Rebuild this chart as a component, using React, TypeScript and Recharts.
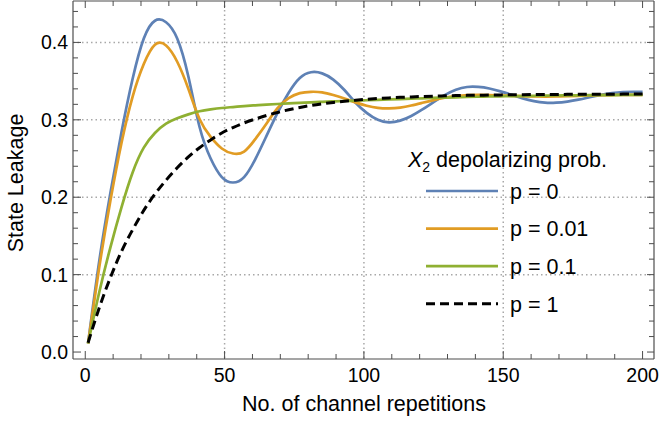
import React from 'react';
import { LineChart, Line, XAxis, YAxis, CartesianGrid, Customized } from 'recharts';

// ---- data ----
const reps = [1, 5, 9, 13, 17, 21, 25, 29, 33, 37, 41, 45, 49, 53, 57, 61, 65, 69, 73, 77, 81, 85, 89, 93, 97, 101, 105, 109, 113, 117, 121, 125, 129, 133, 137, 141, 145, 149, 153, 157, 161, 165, 169, 173, 177, 181, 185, 189, 193, 197, 200];

const leakP0 = [0.011, 0.117, 0.205, 0.284, 0.353, 0.405, 0.428, 0.426, 0.405, 0.356, 0.291, 0.250, 0.226, 0.219, 0.226, 0.249, 0.279, 0.309, 0.335, 0.354, 0.3615, 0.360, 0.352, 0.3385, 0.322, 0.309, 0.300, 0.2968, 0.299, 0.305, 0.3134, 0.3229, 0.3319, 0.3388, 0.3424, 0.3425, 0.3405, 0.3368, 0.3323, 0.3277, 0.3242, 0.3222, 0.3222, 0.3236, 0.3261, 0.3292, 0.3322, 0.3346, 0.3359, 0.3362, 0.336];

const leakP001 = [0.011, 0.109, 0.195, 0.270, 0.330, 0.372, 0.397, 0.396, 0.375, 0.340, 0.301, 0.278, 0.263, 0.2565, 0.259, 0.275, 0.295, 0.315, 0.328, 0.3345, 0.3362, 0.3355, 0.332, 0.3275, 0.3225, 0.3182, 0.3155, 0.3148, 0.3158, 0.3185, 0.322, 0.3255, 0.3285, 0.3305, 0.3318, 0.3322, 0.332, 0.3315, 0.331, 0.3305, 0.3302, 0.33, 0.3302, 0.3306, 0.331, 0.3315, 0.3318, 0.332, 0.3322, 0.3323, 0.3323];

const leakP01 = [0.011, 0.077, 0.135, 0.187, 0.232, 0.264, 0.283, 0.295, 0.302, 0.307, 0.311, 0.3135, 0.3153, 0.3165, 0.3177, 0.3187, 0.3196, 0.3204, 0.3212, 0.3219, 0.3226, 0.3232, 0.3238, 0.3243, 0.3248, 0.3253, 0.3258, 0.3263, 0.3268, 0.3273, 0.3278, 0.3283, 0.3287, 0.3291, 0.3295, 0.3298, 0.3301, 0.3304, 0.3306, 0.3308, 0.331, 0.3312, 0.3314, 0.3316, 0.3317, 0.3318, 0.3319, 0.332, 0.3321, 0.3322, 0.3322];

const leakP1 = [0.012, 0.057, 0.096, 0.130, 0.158, 0.183, 0.204, 0.222, 0.238, 0.252, 0.264, 0.274, 0.283, 0.290, 0.296, 0.301, 0.3055, 0.3095, 0.313, 0.316, 0.3186, 0.3207, 0.3225, 0.324, 0.3253, 0.3265, 0.3275, 0.3283, 0.329, 0.3296, 0.3302, 0.3306, 0.331, 0.3313, 0.3316, 0.3318, 0.332, 0.3322, 0.3324, 0.3325, 0.3326, 0.3327, 0.3328, 0.3329, 0.333, 0.333, 0.3331, 0.3331, 0.3332, 0.3332, 0.3332];

const seriesKeys = ['p0', 'p001', 'p01', 'p1'];
const legendLabels = ['p = 0', 'p = 0.01', 'p = 0.1', 'p = 1'];

const xTicks = [0, 10, 20, 30, 40, 50, 60, 70, 80, 90, 100, 110, 120, 130, 140, 150, 160, 170, 180, 190, 200];
const yTicks = [0, 0.02, 0.04, 0.06, 0.08, 0.1, 0.12, 0.14, 0.16, 0.18, 0.2, 0.22, 0.24, 0.26, 0.28, 0.3, 0.32, 0.34, 0.36, 0.38, 0.4, 0.42, 0.44];
const xGrid = [50, 100, 150];
const yGrid = [0.1, 0.2, 0.3, 0.4];

const xLabel = 'No. of channel repetitions';
const yLabel = 'State Leakage';
const legendTitleVar = 'X';
const legendTitleSub = '2';
const legendTitleRest = ' depolarizing prob.';

// ---- styles ----
const FONT = '"Liberation Sans", Arial, Helvetica, sans-serif';
const AXIS = '#4d4d4d';
const styles: Record<string, { color: string; dash?: string; width: number }> = {
  p0: { color: '#5E81B5', width: 2.7 },
  p001: { color: '#E19C24', width: 2.7 },
  p01: { color: '#8FB032', width: 2.7 },
  p1: { color: '#000000', dash: '9 5', width: 3 },
};

const data = reps.map((r, i) => ({
  r,
  p0: leakP0[i],
  p001: leakP001[i],
  p01: leakP01[i],
  p1: leakP1[i],
}));

const isMajorX = (v: number) => v % 50 === 0;
const isMajorY = (v: number) => Math.round(v * 100) % 10 === 0;

const BottomTick = (props: any) => {
  const { x, y, payload } = props;
  const major = isMajorX(payload.value);
  return (
    <g>
      <line x1={x} y1={y} x2={x} y2={y - (major ? 8 : 5)} stroke={AXIS} strokeWidth={1} />
      {major && (
        <text x={x} y={y + 23} textAnchor="middle" fontSize={19.5} fontFamily={FONT} fill="#000">
          {payload.value}
        </text>
      )}
    </g>
  );
};

const TopTick = (props: any) => {
  const { x, y, payload } = props;
  const major = isMajorX(payload.value);
  return <line x1={x} y1={y} x2={x} y2={y + (major ? 7 : 5)} stroke={AXIS} strokeWidth={1} />;
};

const LeftTick = (props: any) => {
  const { x, y, payload } = props;
  const major = isMajorY(payload.value);
  return (
    <g>
      <line x1={x} y1={y} x2={x + (major ? 8 : 5)} y2={y} stroke={AXIS} strokeWidth={1} />
      {major && (
        <text x={x - 5} y={y} dy="0.36em" textAnchor="end" fontSize={19.5} fontFamily={FONT} fill="#000">
          {payload.value.toFixed(1)}
        </text>
      )}
    </g>
  );
};

const RightTick = (props: any) => {
  const { x, y, payload } = props;
  const major = isMajorY(payload.value);
  return <line x1={x} y1={y} x2={x - (major ? 7 : 5)} y2={y} stroke={AXIS} strokeWidth={1} />;
};

const Decorations = () => {
  const legX = 426;
  const legLineLen = 72;
  const legTextX = 510;
  const legY0 = 191;
  const legStep = 37.6;
  return (
    <g fontFamily={FONT} fill="#000">
      <text x={364} y={411} textAnchor="middle" fontSize={21.5}>
        {xLabel}
      </text>
      <text x={23} y={183} textAnchor="middle" fontSize={21.5} transform="rotate(-90, 23, 183)">
        {yLabel}
      </text>
      <text x={408} y={167} fontSize={21.5}>
        <tspan fontStyle="italic">{legendTitleVar}</tspan>
        <tspan fontSize={14} dy={5}>{legendTitleSub}</tspan>
        <tspan dy={-5}>{legendTitleRest}</tspan>
      </text>
      {seriesKeys.map((k, i) => {
        const s = styles[k];
        const y = legY0 + i * legStep;
        return (
          <g key={k}>
            <line x1={legX} y1={y} x2={legX + legLineLen} y2={y} stroke={s.color} strokeWidth={s.width} strokeDasharray={s.dash} />
            <text x={legTextX} y={y} dy="0.36em" fontSize={21.5}>
              {legendLabels[i]}
            </text>
          </g>
        );
      })}
    </g>
  );
};

export default function App() {
  return (
    <div style={{ position: 'absolute', left: 0, top: 0, background: '#fff' }}>
      <LineChart width={661} height={423} data={data} margin={{ top: 0, right: 6, bottom: 34, left: 13 }}>
        <CartesianGrid
          horizontal
          vertical
          horizontalValues={yGrid}
          verticalValues={xGrid}
          stroke="#a8a8a8"
          strokeWidth={1.5}
          strokeDasharray="1.5 3"
        />
        <XAxis
          dataKey="r"
          type="number"
          domain={[-4.4, 204.1]}
          allowDataOverflow
          ticks={xTicks}
          interval={0}
          height={30}
          tickSize={0}
          tickMargin={0}
          tickLine={false}
          axisLine={{ stroke: AXIS, strokeWidth: 1.2 }}
          tick={<BottomTick />}
        />
        <XAxis
          xAxisId="top"
          orientation="top"
          dataKey="r"
          type="number"
          domain={[-4.4, 204.1]}
          allowDataOverflow
          ticks={xTicks}
          interval={0}
          height={1}
          tickSize={0}
          tickMargin={0}
          tickLine={false}
          axisLine={{ stroke: AXIS, strokeWidth: 1.2 }}
          tick={<TopTick />}
        />
        <YAxis
          type="number"
          domain={[-0.009, 0.4535]}
          allowDataOverflow
          ticks={yTicks}
          interval={0}
          width={60}
          tickSize={0}
          tickMargin={0}
          tickLine={false}
          axisLine={{ stroke: AXIS, strokeWidth: 1.2 }}
          tick={<LeftTick />}
        />
        <YAxis
          yAxisId="right"
          orientation="right"
          type="number"
          domain={[-0.009, 0.4535]}
          allowDataOverflow
          ticks={yTicks}
          interval={0}
          width={1}
          tickSize={0}
          tickMargin={0}
          tickLine={false}
          axisLine={{ stroke: AXIS, strokeWidth: 1.2 }}
          tick={<RightTick />}
        />
        {seriesKeys.map((k) => (
          <Line
            key={k}
            dataKey={k}
            type="natural"
            stroke={styles[k].color}
            strokeWidth={styles[k].width}
            strokeDasharray={styles[k].dash}
            dot={false}
            activeDot={false}
            isAnimationActive={false}
          />
        ))}
        <Customized component={Decorations} />
      </LineChart>
    </div>
  );
}
